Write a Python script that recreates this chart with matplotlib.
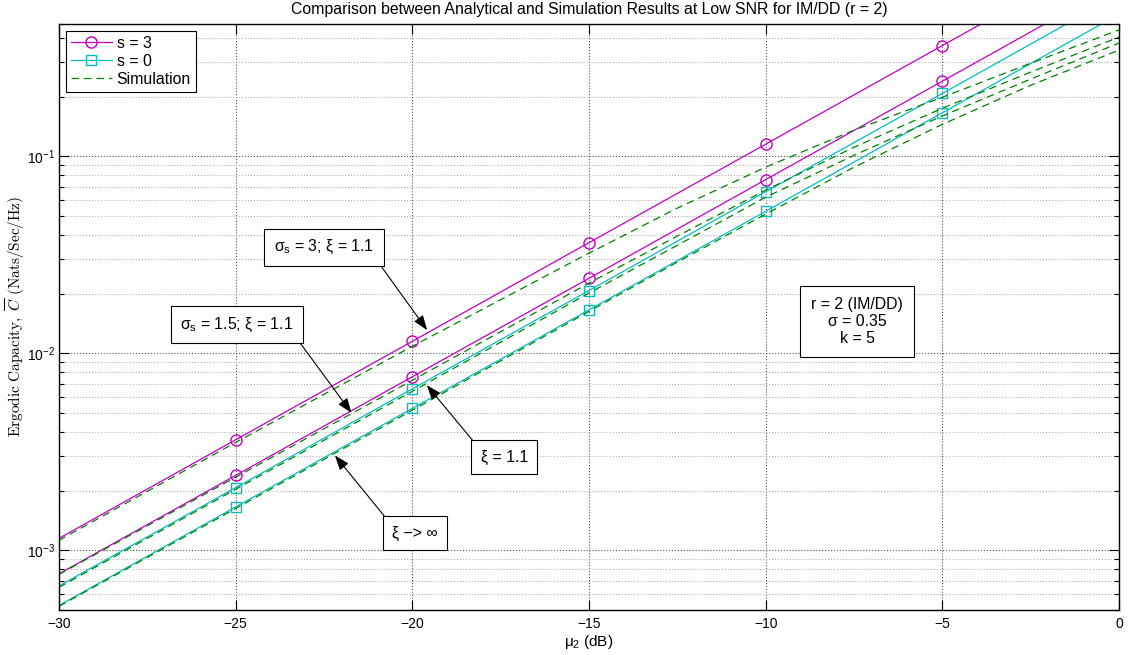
import numpy as np
import matplotlib
matplotlib.use('Agg')
import matplotlib.pyplot as plt
from matplotlib.ticker import LogLocator, NullFormatter

plt.rcParams['font.family'] = ['Liberation Sans', 'DejaVu Sans']
plt.rcParams['mathtext.fontset'] = 'custom'
plt.rcParams['mathtext.rm'] = 'Liberation Sans'
plt.rcParams['mathtext.it'] = 'Liberation Sans'
plt.rcParams['mathtext.bf'] = 'Liberation Sans:bold'
plt.rcParams['axes.unicode_minus'] = True

# --- data ---
mu_db = [-30, -25, -20, -15, -10, -5, 0]

# analytical curves
cap_s3_sig3 = [1.15e-3, 3.64e-3, 1.15e-2, 3.64e-2, 0.115, 0.364, 1.15]
cap_s3_sig15 = [7.6e-4, 2.4e-3, 7.6e-3, 2.4e-2, 7.6e-2, 0.24, 0.76]
cap_s0_xi11 = [6.6e-4, 2.08e-3, 6.6e-3, 2.08e-2, 6.6e-2, 0.208, 0.66]
cap_s0_xiinf = [5.25e-4, 1.66e-3, 5.25e-3, 1.66e-2, 5.25e-2, 0.166, 0.525]

# simulation curves
mu_sim = [-30, -25, -20, -15, -12.5, -10, -7.5, -5, -2.5, 0]
sim_s3_sig3 = [1.124e-3, 3.53e-3, 1.085e-2, 3.22e-2, 5.45e-2, 8.79e-2, 0.1355, 0.199, 0.296, 0.437]
sim_s3_sig15 = [7.55e-4, 2.35e-3, 7.29e-3, 2.27e-2, 3.93e-2, 6.72e-2, 0.111, 0.175, 0.267, 0.402]
sim_s0_xi11 = [6.49e-4, 2.04e-3, 6.41e-3, 2.02e-2, 3.53e-2, 6.19e-2, 0.101, 0.160, 0.246, 0.375]
sim_s0_xiinf = [5.20e-4, 1.63e-3, 5.14e-3, 1.63e-2, 2.90e-2, 5.08e-2, 8.79e-2, 0.145, 0.229, 0.345]

xticks = [-30, -25, -20, -15, -10, -5, 0]

magenta = '#bf00bf'
cyan = '#00bfbf'
green = '#008000'

fig = plt.figure(figsize=(11.36, 6.55), dpi=100)
ax = fig.add_axes([0.0519, 0.0692, 0.9331, 0.8946])

marks = [1, 2, 3, 4, 5]
ax.plot(mu_db, cap_s3_sig3, color=magenta, lw=0.9, marker='o', ms=8, mfc='none',
        markevery=marks, label='s = 3')
ax.plot(mu_db, cap_s0_xi11, color=cyan, lw=0.9, marker='s', ms=6.5, mfc='none',
        markevery=marks, label='s = 0')
ax.plot(mu_db, cap_s3_sig15, color=magenta, lw=0.9, marker='o', ms=8, mfc='none',
        markevery=marks)
ax.plot(mu_db, cap_s0_xiinf, color=cyan, lw=0.9, marker='s', ms=6.5, mfc='none',
        markevery=marks)

for i, sim in enumerate([sim_s3_sig3, sim_s3_sig15, sim_s0_xi11, sim_s0_xiinf]):
    ax.plot(mu_sim, sim, color=green, lw=0.9, dashes=(6, 4),
            label='Simulation' if i == 0 else None)

ax.set_yscale('log')
ax.set_xlim(-30, 0)
ax.set_ylim(5e-4, 0.47)
ax.set_xticks(xticks)
ax.yaxis.set_minor_locator(LogLocator(base=10, subs=np.arange(2, 10)))
ax.yaxis.set_minor_formatter(NullFormatter())

ax.grid(True, which='major', ls=':', color='#505050', lw=0.8)
ax.grid(True, which='minor', axis='y', ls=':', color='#b0b0b0', lw=0.8)
ax.tick_params(which='both', direction='in', top=True, right=True, labelsize=10)
ax.tick_params(which='major', length=7, width=0.8)
ax.tick_params(which='minor', length=3.5, width=0.8)
ax.tick_params(axis='x', pad=5)
ax.tick_params(axis='y', pad=3)
for sp in ax.spines.values():
    sp.set_linewidth(1.0)

ax.set_title('Comparison between Analytical and Simulation Results at Low SNR for IM/DD (r = 2)',
             fontsize=11.4, pad=7)
ax.set_xlabel(r'$\mu_2$ (dB)', fontsize=11, labelpad=2)
ax.set_ylabel(r'$\mathrm{Ergodic\ Capacity,}\ \overline{C}\ \mathrm{(Nats/Sec/Hz)}$',
              fontsize=11, math_fontfamily='cm')
ax.yaxis.set_label_coords(-0.030, 0.5)

leg = ax.legend(loc='upper left', fontsize=11.4, frameon=True, fancybox=False,
                edgecolor='black', framealpha=1, borderaxespad=0.45,
                handlelength=2.6, handletextpad=0.3, labelspacing=0.2, borderpad=0.3)
leg.get_frame().set_linewidth(0.8)

box = dict(boxstyle='square,pad=0.6', fc='white', ec='black', lw=0.8)
arrow = dict(arrowstyle='-|>,head_length=0.6,head_width=0.22', color='black', lw=0.8,
             shrinkA=0, shrinkB=0, mutation_scale=15)

ax.annotate(r'$\sigma_{\mathregular{s}}$ = 3; ξ = 1.1', xy=(-19.58, 0.0131), xytext=(-22.5, 0.0345),
            fontsize=11.4, ha='center', va='center', bbox=box,
            arrowprops=dict(arrow, relpos=(1, 0)))
ax.annotate(r'$\sigma_{\mathregular{s}}$ = 1.5; ξ = 1.1', xy=(-21.72, 4.98e-3), xytext=(-24.97, 0.01396),
            fontsize=11.4, ha='center', va='center', bbox=box,
            arrowprops=dict(arrow, relpos=(1, 0)))
ax.annotate('ξ = 1.1', xy=(-19.59, 6.89e-3), xytext=(-17.4, 2.96e-3),
            fontsize=11.4, ha='center', va='center', bbox=box,
            arrowprops=dict(arrow, relpos=(0, 1)))
ax.annotate('ξ \u2212> \u221e', xy=(-22.19, 3.03e-3), xytext=(-19.92, 1.22e-3),
            fontsize=11.4, ha='center', va='center', bbox=box,
            arrowprops=dict(arrow, relpos=(0, 1)))

ax.text(-7.41, 0.01452, 'r = 2 (IM/DD)\nσ = 0.35\nk = 5', fontsize=11.4,
        ha='center', va='center', multialignment='center', linespacing=1.15,
        bbox=dict(boxstyle='square,pad=0.7', fc='white', ec='black', lw=0.8))

fig.savefig('out.png', dpi=100)
